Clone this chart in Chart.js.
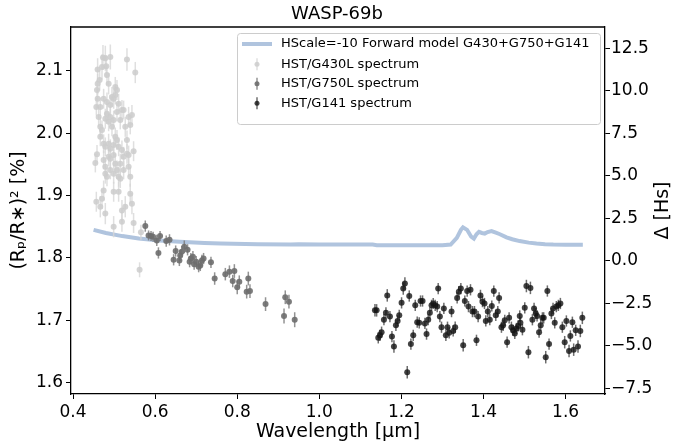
<!DOCTYPE html>
<html>
<head>
<meta charset="utf-8">
<script src="https://cdn.jsdelivr.net/npm/chart.js@4.4.1/dist/chart.umd.min.js"></script>
<style>
html, body { margin: 0; padding: 0; background: #fff; }
</style>
</head>
<body>
<canvas id="spectrum" width="674" height="444"></canvas>
<script>
// tick labels
const xTicks = [0.4, 0.6, 0.8, 1.0, 1.2, 1.4, 1.6];
const yTicks = [1.6, 1.7, 1.8, 1.9, 2.0, 2.1];
const hsTicks = [-7.5, -5.0, -2.5, 0.0, 2.5, 5.0, 7.5, 10.0, 12.5];

// forward model (HScale=-10)
const modelWave = [0.45, 0.48, 0.52, 0.56, 0.61, 0.66, 0.72, 0.76, 0.85, 0.93, 0.95, 1.00, 1.13, 1.14, 1.20, 1.30,
    1.32, 1.335, 1.345, 1.35, 1.36, 1.37, 1.3765, 1.383, 1.389, 1.396, 1.403, 1.41, 1.4195, 1.43, 1.44, 1.456,
    1.47, 1.488, 1.51, 1.529, 1.55, 1.57, 1.60, 1.642];
const modelDepth = [1.845, 1.840, 1.835, 1.831, 1.828, 1.826, 1.824, 1.823, 1.822, 1.8215, 1.8218, 1.8215, 1.8215, 1.8205, 1.8205, 1.8205,
    1.8215, 1.832, 1.845, 1.849, 1.845, 1.834, 1.831, 1.838, 1.8417, 1.840, 1.839, 1.8415, 1.843, 1.8405, 1.838, 1.833,
    1.830, 1.827, 1.8245, 1.823, 1.822, 1.8215, 1.8212, 1.8212];

// HST/G430L
const g430Wave = [0.4543, 0.4567, 0.4567, 0.4583, 0.4583, 0.4599, 0.4599, 0.4599, 0.4624, 0.4648, 0.4664, 0.4664, 0.4664, 0.4664,
    0.4705, 0.4705, 0.4705, 0.4729, 0.4745, 0.4745, 0.4745, 0.4745, 0.4786, 0.4786, 0.4786, 0.4786, 0.4786, 0.4786, 0.4810,
    0.4826, 0.4826, 0.4826, 0.4826, 0.4867, 0.4867, 0.4867, 0.4867, 0.4908, 0.4908, 0.4908, 0.4908, 0.4908, 0.4908, 0.4948,
    0.4948, 0.4989, 0.4989, 0.4989, 0.4989, 0.4989, 0.4989, 0.4989, 0.5029, 0.5029, 0.5029, 0.5029, 0.5070, 0.5070, 0.5070,
    0.5070, 0.5110, 0.5110, 0.5110, 0.5110, 0.5151, 0.5151, 0.5151, 0.5191, 0.5191, 0.5191, 0.5191, 0.5232, 0.5232, 0.5232,
    0.5272, 0.5272, 0.5313, 0.5313, 0.5313, 0.5354, 0.5354, 0.5354, 0.5394, 0.5394, 0.5394, 0.5435, 0.5435, 0.5475, 0.5475,
    0.5516, 0.5621, 0.5654];
const g430Depth = [1.952, 1.890, 2.042, 2.069, 1.966, 2.102, 2.079, 2.055, 2.026, 2.085, 2.042, 2.010, 1.994, 1.882,
    2.106, 2.005, 1.895, 2.121, 2.055, 1.983, 1.957, 1.908, 2.120, 2.023, 1.978, 1.946, 1.935, 1.871, 2.107,
    2.093, 2.050, 2.031, 1.930, 2.079, 2.018, 1.983, 1.962, 2.122, 2.045, 2.026, 1.975, 1.959, 1.941, 2.058,
    2.010, 2.055, 2.021, 1.981, 1.965, 1.935, 1.906, 1.850, 2.074, 2.061, 1.994, 1.951, 2.069, 2.034, 1.989,
    1.941, 2.047, 1.978, 1.930, 1.906, 2.021, 1.951, 1.927, 2.037, 1.973, 1.876, 1.858, 2.037, 1.962, 1.941,
    2.010, 1.882, 2.118, 1.989, 1.967, 2.026, 1.965, 1.946, 2.013, 1.930, 1.903, 2.029, 1.887, 1.971, 1.856,
    2.097, 1.781, 1.841];
const g430Err = [0.015, 0.016, 0.014, 0.016, 0.015, 0.018, 0.016, 0.015, 0.016, 0.017, 0.015, 0.016, 0.015, 0.017,
    0.020, 0.015, 0.016, 0.020, 0.016, 0.015, 0.015, 0.016, 0.020, 0.016, 0.015, 0.015, 0.016, 0.017, 0.018,
    0.016, 0.015, 0.016, 0.015, 0.017, 0.015, 0.016, 0.015, 0.020, 0.016, 0.015, 0.015, 0.016, 0.015, 0.016,
    0.015, 0.016, 0.015, 0.016, 0.015, 0.016, 0.016, 0.017, 0.016, 0.015, 0.015, 0.016, 0.016, 0.015, 0.016,
    0.015, 0.016, 0.015, 0.016, 0.016, 0.015, 0.016, 0.015, 0.016, 0.015, 0.017, 0.016, 0.015, 0.016, 0.015,
    0.016, 0.017, 0.018, 0.015, 0.016, 0.016, 0.015, 0.016, 0.015, 0.016, 0.016, 0.016, 0.017, 0.016, 0.016,
    0.017, 0.012, 0.012];

// HST/G750L
const g750Wave = [0.576, 0.584, 0.590, 0.595, 0.604, 0.608, 0.612, 0.627, 0.635, 0.645, 0.650, 0.659, 0.661, 0.665,
    0.671, 0.679, 0.684, 0.687, 0.692, 0.695, 0.700, 0.706, 0.710, 0.714, 0.718, 0.736, 0.745, 0.771, 0.781, 0.789,
    0.793, 0.800, 0.805, 0.823, 0.827, 0.831, 0.869, 0.914, 0.917, 0.926, 0.940];
const g750Depth = [1.851, 1.836, 1.835, 1.834, 1.828, 1.808, 1.835, 1.827, 1.829, 1.797, 1.811, 1.796, 1.804, 1.810,
    1.818, 1.813, 1.794, 1.799, 1.802, 1.790, 1.794, 1.786, 1.788, 1.796, 1.799, 1.793, 1.767, 1.774, 1.778, 1.763,
    1.779, 1.753, 1.762, 1.746, 1.767, 1.747, 1.726, 1.707, 1.737, 1.730, 1.701];
const g750Err = [0.009, 0.008, 0.008, 0.008, 0.009, 0.009, 0.008, 0.009, 0.009, 0.009, 0.009, 0.009, 0.009, 0.009,
    0.010, 0.009, 0.009, 0.009, 0.009, 0.009, 0.009, 0.009, 0.009, 0.009, 0.009, 0.009, 0.010, 0.010, 0.010, 0.010,
    0.011, 0.011, 0.010, 0.011, 0.011, 0.011, 0.011, 0.012, 0.011, 0.011, 0.012];

// HST/G141
const g141Wave = [1.1355, 1.1396, 1.1436, 1.1477, 1.1517, 1.1574, 1.1623, 1.1655, 1.1720, 1.1769, 1.1818, 1.1866, 1.1907,
    1.1947, 1.2004, 1.2045, 1.2085, 1.2142, 1.2191, 1.2231, 1.2288, 1.2337, 1.2385, 1.2434, 1.2466, 1.2515, 1.2572,
    1.2612, 1.2653, 1.2693, 1.2734, 1.2775, 1.2823, 1.2872, 1.2896, 1.2937, 1.2977, 1.3034, 1.3083, 1.3123, 1.3164,
    1.3221, 1.3261, 1.3310, 1.3358, 1.3399, 1.3448, 1.3505, 1.3545, 1.3602, 1.3634, 1.3683, 1.3731, 1.3780, 1.3829,
    1.3869, 1.3926, 1.3975, 1.4024, 1.4056, 1.4105, 1.4153, 1.4202, 1.4251, 1.4299, 1.4348, 1.4380, 1.4437, 1.4478,
    1.4518, 1.4575, 1.4624, 1.4680, 1.4721, 1.4762, 1.4802, 1.4843, 1.4883, 1.4899, 1.4948, 1.5005, 1.5045, 1.5094,
    1.5143, 1.5191, 1.5232, 1.5273, 1.5305, 1.5354, 1.5394, 1.5435, 1.5467, 1.5516, 1.5556, 1.5597, 1.5654, 1.5694,
    1.5735, 1.5775, 1.5824, 1.5873, 1.5921, 1.5978, 1.6019, 1.6084, 1.6116, 1.6165, 1.6197, 1.6246, 1.6302, 1.6359,
    1.6408];
const g141Depth = [1.716, 1.716, 1.672, 1.676, 1.681, 1.701, 1.712, 1.740, 1.706, 1.674, 1.658, 1.692, 1.699,
    1.708, 1.728, 1.751, 1.759, 1.617, 1.739, 1.662, 1.676, 1.724, 1.697, 1.696, 1.731, 1.731, 1.695,
    1.678, 1.701, 1.712, 1.724, 1.727, 1.724, 1.722, 1.751, 1.706, 1.689, 1.719, 1.676, 1.689, 1.680,
    1.714, 1.683, 1.689, 1.736, 1.746, 1.751, 1.660, 1.731, 1.747, 1.722, 1.749, 1.714, 1.714, 1.668,
    1.706, 1.740, 1.730, 1.727, 1.699, 1.714, 1.701, 1.723, 1.747, 1.708, 1.714, 1.736, 1.689, 1.692,
    1.700, 1.665, 1.704, 1.689, 1.684, 1.679, 1.687, 1.691, 1.707, 1.696, 1.685, 1.720, 1.755, 1.649,
    1.752, 1.701, 1.719, 1.711, 1.707, 1.681, 1.692, 1.704, 1.704, 1.641, 1.747, 1.662, 1.711, 1.719,
    1.696, 1.722, 1.724, 1.727, 1.689, 1.665, 1.699, 1.651, 1.675, 1.697, 1.653, 1.684, 1.658, 1.683,
    1.704];
const g141Err = [0.010, 0.010, 0.009, 0.009, 0.009, 0.009, 0.009, 0.010, 0.009, 0.009, 0.010, 0.009, 0.009,
    0.009, 0.009, 0.010, 0.010, 0.010, 0.009, 0.009, 0.009, 0.009, 0.009, 0.009, 0.009, 0.009, 0.009,
    0.009, 0.009, 0.009, 0.009, 0.009, 0.009, 0.009, 0.009, 0.009, 0.009, 0.009, 0.009, 0.009, 0.009,
    0.009, 0.009, 0.009, 0.009, 0.009, 0.009, 0.010, 0.009, 0.009, 0.009, 0.009, 0.009, 0.009, 0.009,
    0.009, 0.009, 0.009, 0.009, 0.009, 0.009, 0.009, 0.009, 0.009, 0.009, 0.009, 0.009, 0.009, 0.009,
    0.009, 0.009, 0.009, 0.009, 0.009, 0.009, 0.009, 0.009, 0.009, 0.009, 0.009, 0.009, 0.010, 0.010,
    0.010, 0.009, 0.009, 0.009, 0.009, 0.009, 0.009, 0.009, 0.009, 0.010, 0.009, 0.009, 0.009, 0.009,
    0.009, 0.009, 0.009, 0.009, 0.009, 0.010, 0.009, 0.010, 0.009, 0.009, 0.010, 0.009, 0.010, 0.010,
    0.010];

const font = "'DejaVu Sans', sans-serif";
const modelColor = "#b0c4de";
Chart.defaults.font.family = font;
Chart.defaults.color = "#000";

const pts = (xs, ys) => xs.map((x, i) => ({x: x, y: ys[i]}));

// vertical error bars, drawn just under each dataset's markers
const errorBars = {
    id: "errorBars",
    beforeDatasetDraw(chart, args) {
        const ds = chart.data.datasets[args.index];
        if (!ds.errors) return;
        const ctx = chart.ctx, x = chart.scales.x, y = chart.scales.y;
        ctx.save();
        ctx.strokeStyle = ds.errColor;
        ctx.lineWidth = 1.5;
        ds.data.forEach((p, i) => {
            const px = x.getPixelForValue(p.x);
            ctx.beginPath();
            ctx.moveTo(px, y.getPixelForValue(p.y - ds.errors[i]));
            ctx.lineTo(px, y.getPixelForValue(p.y + ds.errors[i]));
            ctx.stroke();
        });
        ctx.restore();
    }
};

// top spine, right axis label and the legend box
const decorations = {
    id: "decorations",
    afterDraw(chart) {
        const ctx = chart.ctx, a = chart.chartArea;
        ctx.save();
        ctx.strokeStyle = "#000";
        ctx.lineWidth = 1.3;
        ctx.beginPath();
        ctx.moveTo(a.left, a.top);
        ctx.lineTo(a.right, a.top);
        ctx.stroke();

        ctx.translate(663, (a.top + a.bottom) / 2);
        ctx.rotate(-Math.PI / 2);
        ctx.font = "19px " + font;
        ctx.fillStyle = "#000";
        ctx.textAlign = "center";
        ctx.textBaseline = "middle";
        ctx.fillText("Δ [Hs]", 0, 0);
        ctx.restore();

        // legend
        const bx = a.right - 367.5, by = a.top + 6.5, bw = 363, bh = 91;
        ctx.save();
        ctx.beginPath();
        ctx.roundRect(bx, by, bw, bh, 3);
        ctx.fillStyle = "rgba(255,255,255,0.8)";
        ctx.fill();
        ctx.strokeStyle = "#cccccc";
        ctx.lineWidth = 1;
        ctx.stroke();

        const hx = bx + 19.5, tx = bx + 43.5;
        const rows = [by + 10.5, by + 30.8, by + 50.2, by + 69.8];
        const entries = [chart.data.datasets[3], chart.data.datasets[2], chart.data.datasets[1], chart.data.datasets[0]];
        entries.forEach((ds, k) => {
            const ry = rows[k];
            if (k === 0) {
                ctx.strokeStyle = modelColor;
                ctx.lineWidth = 4;
                ctx.beginPath();
                ctx.moveTo(hx - 15, ry);
                ctx.lineTo(hx + 15, ry);
                ctx.stroke();
            } else {
                ctx.strokeStyle = ds.errColor;
                ctx.lineWidth = 1.5;
                ctx.beginPath();
                ctx.moveTo(hx, ry - 6);
                ctx.lineTo(hx, ry + 6);
                ctx.stroke();
                ctx.fillStyle = ds.backgroundColor;
                ctx.beginPath();
                ctx.arc(hx, ry, 2.5, 0, Math.PI * 2);
                ctx.fill();
            }
            ctx.fillStyle = "#000";
            ctx.font = "13px " + font;
            ctx.textAlign = "left";
            ctx.textBaseline = "middle";
            ctx.fillText(ds.label, tx, ry);
        });
        ctx.restore();
    }
};

const tickFont = {family: font, size: 17};
const axisGrid = {drawOnChartArea: false, color: "#000", tickLength: 5, tickWidth: 1};
const axisBorder = {color: "#000", width: 1.3};

const chart = new Chart(document.getElementById("spectrum"), {
    type: "scatter",
    data: {
        datasets: [{
            label: "HST/G141 spectrum",
            data: pts(g141Wave, g141Depth),
            errors: g141Err,
            backgroundColor: "rgba(20,20,20,0.8)",
            errColor: "rgba(30,30,30,0.65)",
            pointRadius: 3,
            borderWidth: 0,
            order: 1
        }, {
            label: "HST/G750L spectrum",
            data: pts(g750Wave, g750Depth),
            errors: g750Err,
            backgroundColor: "rgba(110,110,110,0.9)",
            errColor: "rgba(120,120,120,0.8)",
            pointRadius: 3,
            borderWidth: 0,
            order: 2
        }, {
            label: "HST/G430L spectrum",
            data: pts(g430Wave, g430Depth),
            errors: g430Err,
            backgroundColor: "rgba(205,205,205,0.85)",
            errColor: "rgba(215,215,215,0.8)",
            pointRadius: 3,
            borderWidth: 0,
            order: 3
        }, {
            label: "HScale=-10 Forward model G430+G750+G141",
            type: "line",
            data: pts(modelWave, modelDepth),
            borderColor: modelColor,
            borderWidth: 4,
            pointRadius: 0,
            tension: 0,
            fill: false,
            order: 4
        }]
    },
    options: {
        responsive: false,
        animation: false,
        devicePixelRatio: 1,
        layout: {padding: 0},
        plugins: {
            legend: {display: false},
            tooltip: {enabled: false},
            title: {
                display: true,
                text: "WASP-69b",
                color: "#000",
                font: {family: font, size: 18, weight: "normal"},
                padding: {top: 4, bottom: 1.4}
            }
        },
        scales: {
            x: {
                type: "linear",
                min: 0.395,
                max: 1.696,
                afterBuildTicks: s => { s.ticks = xTicks.map(v => ({value: v})); },
                afterFit: s => { s.height = 50; },
                ticks: {font: tickFont, padding: 3, maxRotation: 0, callback: v => v.toFixed(1)},
                grid: axisGrid,
                border: axisBorder,
                title: {display: true, text: "Wavelength [μm]", font: {family: font, size: 19}, padding: {top: 0, bottom: 1}}
            },
            y: {
                type: "linear",
                position: "left",
                min: 1.582,
                max: 2.17,
                afterBuildTicks: s => { s.ticks = yTicks.map(v => ({value: v})); },
                afterFit: s => { s.width = 71; },
                ticks: {font: tickFont, padding: 3, callback: v => v.toFixed(1)},
                grid: axisGrid,
                border: axisBorder,
                title: {display: true, text: "(Rₚ/R∗)² [%]", font: {family: font, size: 19}, padding: {top: 8, bottom: 0}}
            },
            y2: {
                type: "linear",
                position: "right",
                min: -7.83,
                max: 13.75,
                afterBuildTicks: s => { s.ticks = hsTicks.map(v => ({value: v})); },
                afterFit: s => { s.width = 69; },
                ticks: {font: tickFont, padding: 1, callback: v => (v < 0 ? "−" : "") + Math.abs(v).toFixed(1)},
                grid: axisGrid,
                border: axisBorder
            }
        }
    },
    plugins: [errorBars, decorations]
});
</script>
</body>
</html>
